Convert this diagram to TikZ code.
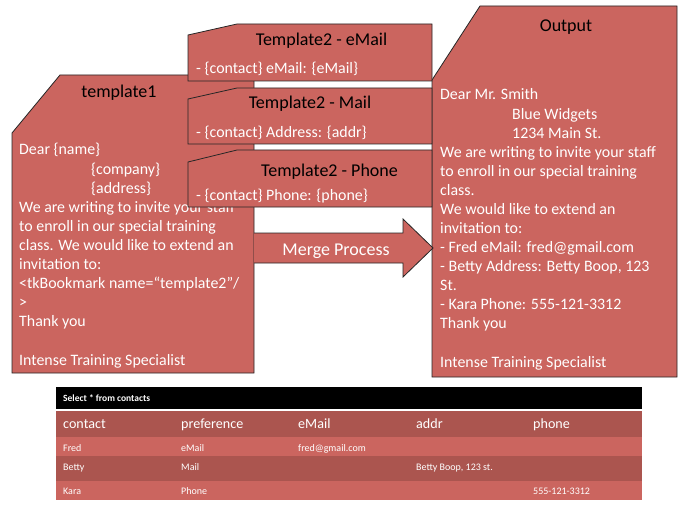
\documentclass[tikz,border=0pt]{standalone}
\usepackage{fontspec}
\setmainfont{Carlito}
\definecolor{boxred}{RGB}{203,101,95}
\definecolor{rowdark}{RGB}{171,85,79}
\begin{document}
\begin{tikzpicture}[x=1pt,y=-1pt,
  shapebox/.style={fill=boxred, draw=black!85, line width=0.8pt, line join=miter},
  body/.style={anchor=base west, inner sep=0pt, text=white, font=\fontsize{15.9}{19}\selectfont},
  ttl/.style={anchor=base, inner sep=0pt, text=black, font=\fontsize{18}{21}\selectfont},
  thead/.style={anchor=base west, inner sep=0pt, text=white, font=\fontsize{14.1}{17}\selectfont},
  tcell/.style={anchor=base west, inner sep=0pt, text=white, font=\fontsize{10}{12}\selectfont}]
\useasboundingbox (0,0) rectangle (687,505);

% template1
\draw[shapebox] (12,133) -- (60,75) -- (254,75) -- (254,373) -- (12,373) -- cycle;
\node[ttl] (t1title) at (119,98) {template1};
\node[body] (t1a) at (19,155.0) {Dear \{name\}};
\node[body] (t1b) at (91,174.1) {\{company\}};
\node[body] (t1c) at (91,193.2) {\{address\}};
\node[body] (t1d) at (19,212.3) {We are writing to invite your staff};
\node[body] (t1e) at (19,231.4) {to enroll in our special training};
\node[body] (t1f) at (19,250.5) {class. We would like to extend an};
\node[body] (t1g) at (19,269.6) {invitation to:};
\node[body] (t1h) at (19,288.7) {<tkBookmark name=“template2”/};
\node[body] (t1i) at (19,307.8) {>};
\node[body] (t1j) at (19,326.9) {Thank you};
\node[body] (t1k) at (19,365.1) {Intense Training Specialist};

% output
\draw[shapebox] (432,80) -- (480,6) -- (677,6) -- (677,377) -- (432,377) -- cycle;
\node[ttl] (otitle) at (566,32) {Output};
\node[body] (oa) at (440,100.0) {Dear Mr. Smith};
\node[body] (ob) at (512,119.1) {Blue Widgets};
\node[body] (oc) at (512,138.1) {1234 Main St.};
\node[body] (od) at (440,157.2) {We are writing to invite your staff};
\node[body] (oe) at (440,176.3) {to enroll in our special training};
\node[body] (of) at (440,195.4) {class.};
\node[body] (og) at (440,214.4) {We would like to extend an};
\node[body] (oh) at (440,233.5) {invitation to:};
\node[body] (oi) at (440,252.6) {- Fred eMail: fred@gmail.com};
\node[body] (oj) at (440,271.6) {- Betty Address: Betty Boop, 123};
\node[body] (ok) at (440,290.7) {St.};
\node[body] (ol) at (440,309.8) {- Kara Phone: 555-121-3312};
\node[body] (om) at (440,328.8) {Thank you};
\node[body] (on) at (440,367.0) {Intense Training Specialist};

% template2 boxes
\draw[shapebox] (188,35) -- (237,24) -- (432,24) -- (432,81) -- (188,81) -- cycle;
\node[ttl] (emtitle) at (321.5,46) {Template2 - eMail};
\node[body] (embody) at (196,74) {- \{contact\} eMail: \{eMail\}};

\draw[shapebox] (188,99) -- (237,88) -- (432,88) -- (432,144) -- (188,144) -- cycle;
\node[ttl] (mltitle) at (310,109) {Template2 - Mail};
\node[body] (mlbody) at (196,138) {- \{contact\} Address: \{addr\}};

\draw[shapebox] (188,162) -- (237,150) -- (432,150) -- (432,207) -- (188,207) -- cycle;
\node[ttl] (phtitle) at (329.5,176) {Template2 - Phone};
\node[body] (phbody) at (196,200) {- \{contact\} Phone: \{phone\}};

% merge arrow
\draw[shapebox] (254,233) -- (403,233) -- (403,219) -- (433,248) -- (403,277) -- (403,263) -- (254,263);
\node[anchor=base, inner sep=0pt, text=white, font=\fontsize{18}{21}\selectfont] (merge) at (336,255) {Merge Process};

% table
\fill[black] (56,387) rectangle (642,409);
\fill[rowdark] (56,411) rectangle (642,437);
\fill[boxred] (56,437) rectangle (642,456);
\fill[rowdark] (56,456) rectangle (642,481);
\fill[boxred] (56,481) rectangle (642,500);
\node[anchor=base west, inner sep=0pt, text=white, font=\fontsize{9.5}{11}\selectfont\bfseries] (sel) at (63,401) {Select * from contacts};
\node[thead] (h1) at (63,428) {contact};
\node[thead] (h2) at (181,428) {preference};
\node[thead] (h3) at (298,428) {eMail};
\node[thead] (h4) at (416,428) {addr};
\node[thead] (h5) at (533,428) {phone};
\node[tcell] (r1a) at (63,451) {Fred};
\node[tcell] (r1b) at (181,451) {eMail};
\node[tcell] (r1c) at (298,451) {fred@gmail.com};
\node[tcell] (r2a) at (63,470) {Betty};
\node[tcell] (r2b) at (181,470) {Mail};
\node[tcell] (r2d) at (416,470) {Betty Boop, 123 st.};
\node[tcell] (r3a) at (63,494) {Kara};
\node[tcell] (r3b) at (181,494) {Phone};
\node[tcell] (r3e) at (533,494) {555-121-3312};
\end{tikzpicture}
\end{document}
